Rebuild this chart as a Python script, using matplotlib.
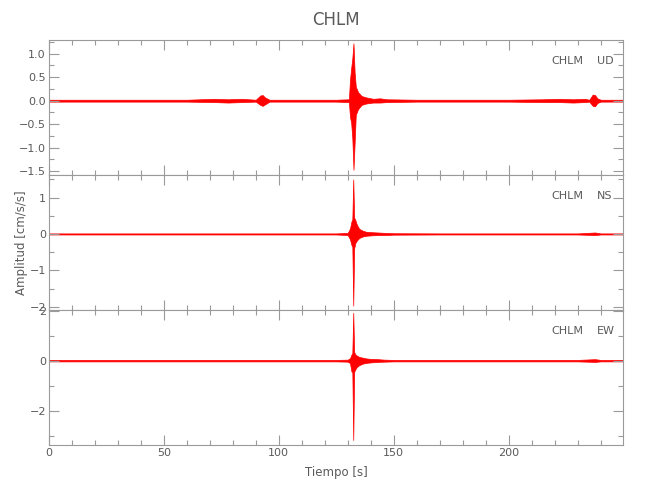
import matplotlib
matplotlib.use("Agg")
import matplotlib.pyplot as plt
from matplotlib.ticker import MultipleLocator

# envelope of each trace: time [s], upper and lower amplitude [cm/s/s]
ud_t  = [0, 30, 60, 72, 78, 84, 90, 92, 93, 94, 96, 110, 125, 130.5, 131, 131.5,
         132, 132.5, 133, 133.5, 134.5, 136, 138, 141, 144, 147, 160, 200, 215,
         222, 228, 233, 235, 236.5, 237.5, 238.5, 240, 250]
ud_hi = [0.02, 0.02, 0.02, 0.04, 0.03, 0.04, 0.02, 0.11, 0.12, 0.07, 0.02, 0.02, 0.02,
         0.03, 0.45, 0.69, 0.9, 1.22, 0.6, 0.3, 0.18, 0.1, 0.07, 0.04, 0.05, 0.03,
         0.02, 0.02, 0.03, 0.04, 0.03, 0.04, 0.02, 0.13, 0.12, 0.05, 0.02, 0.02]
ud_lo = [-0.02, -0.02, -0.02, -0.03, -0.04, -0.03, -0.02, -0.09, -0.11, -0.08, -0.02,
         -0.02, -0.02, -0.03, -0.35, -0.47, -0.8, -1.47, -0.9, -0.3, -0.18, -0.09,
         -0.06, -0.04, -0.04, -0.03, -0.02, -0.02, -0.03, -0.03, -0.04, -0.03,
         -0.02, -0.11, -0.12, -0.05, -0.02, -0.02]

ns_t  = [0, 30, 60, 90, 110, 125, 130, 131, 131.6, 132.0, 132.4, 132.8, 133.3, 134,
         135, 136.5, 138, 140, 143, 146, 150, 170, 200, 230, 237.5, 240, 250]
ns_hi = [0.015, 0.015, 0.015, 0.015, 0.015, 0.015, 0.03, 0.15, 0.34, 0.40, 1.50,
         0.45, 0.38, 0.25, 0.14, 0.09, 0.06, 0.05, 0.04, 0.03, 0.02, 0.015, 0.015,
         0.015, 0.04, 0.015, 0.015]
ns_lo = [-0.015, -0.015, -0.015, -0.015, -0.015, -0.015, -0.03, -0.15, -0.30, -0.35,
         -1.97, -0.40, -0.25, -0.18, -0.11, -0.07, -0.05, -0.04, -0.03, -0.03, -0.02,
         -0.015, -0.015, -0.015, -0.03, -0.015, -0.015]

ew_t  = [0, 30, 60, 90, 110, 125, 130, 131, 131.6, 132.0, 132.4, 132.8, 133.3, 134,
         135, 136.5, 138, 140, 143, 146, 150, 170, 200, 230, 237.5, 240, 250]
ew_hi = [0.03, 0.03, 0.03, 0.03, 0.03, 0.03, 0.04, 0.10, 0.24, 0.30, 1.92, 0.35, 0.25,
         0.20, 0.15, 0.12, 0.09, 0.07, 0.06, 0.04, 0.03, 0.03, 0.03, 0.03, 0.06,
         0.03, 0.03]
ew_lo = [-0.03, -0.03, -0.03, -0.03, -0.03, -0.03, -0.04, -0.10, -0.43, -0.45, -3.18,
         -0.45, -0.35, -0.25, -0.18, -0.12, -0.09, -0.07, -0.05, -0.04, -0.03, -0.03,
         -0.03, -0.03, -0.05, -0.03, -0.03]

components = ["UD", "NS", "EW"]
ylims = [(-1.58, 1.29), (-2.09, 1.62), (-3.38, 2.03)]
ymajor = [0.5, 1, 2]
yminor = [0.25, 0.5, 1]
station = "CHLM"

GRAY = "#9a9a9a"
TXT = "#5a5a5a"

fig = plt.figure(figsize=(6.5, 5), dpi=100)
left, width, h = 48.7 / 650, 574.6 / 650, 0.27
bottoms = [0.65, 0.38, 0.11]

traces = [(ud_t, ud_hi, ud_lo), (ns_t, ns_hi, ns_lo), (ew_t, ew_hi, ew_lo)]
axes = []
for i, (t, hi, lo) in enumerate(traces):
    ax = fig.add_axes([left, bottoms[i], width, h])
    ax.fill_between(t, lo, hi, color="red", lw=0.5, edgecolor="red")
    ax.set_xlim(0, 249.8)
    ax.set_ylim(*ylims[i])
    ax.xaxis.set_major_locator(MultipleLocator(50))
    ax.xaxis.set_minor_locator(MultipleLocator(10))
    ax.yaxis.set_major_locator(MultipleLocator(ymajor[i]))
    ax.yaxis.set_minor_locator(MultipleLocator(yminor[i]))
    if i == 0:
        ax.yaxis.set_major_formatter("{x:.1f}")
    else:
        ax.yaxis.set_major_formatter("{x:.0f}")
    ax.tick_params(which="both", direction="in", top=True, right=True,
                   color=GRAY, labelcolor=TXT, labelsize=8, pad=2, width=0.8)
    ax.tick_params(which="major", length=7)
    ax.tick_params(which="minor", length=3.6)
    for s in ax.spines.values():
        s.set_color(GRAY)
        s.set_linewidth(0.8)
    if i < 2:
        ax.tick_params(labelbottom=False)
    ax.text(0.930, 0.845, station, transform=ax.transAxes, ha="right", va="center",
            color=TXT, fontsize=8)
    ax.text(0.954, 0.845, components[i], transform=ax.transAxes, ha="left",
            va="center", color=TXT, fontsize=8)
    axes.append(ax)

axes[0].set_title(station, color=TXT, fontsize=12, pad=11)
axes[1].set_ylabel("Amplitud [cm/s/s]", color=TXT, fontsize=8.5)
axes[1].yaxis.set_label_coords(-0.036, 0.5)
axes[2].set_xlabel("Tiempo [s]", color=TXT, fontsize=8.5, labelpad=6)

fig.savefig("out.png", dpi=100)
